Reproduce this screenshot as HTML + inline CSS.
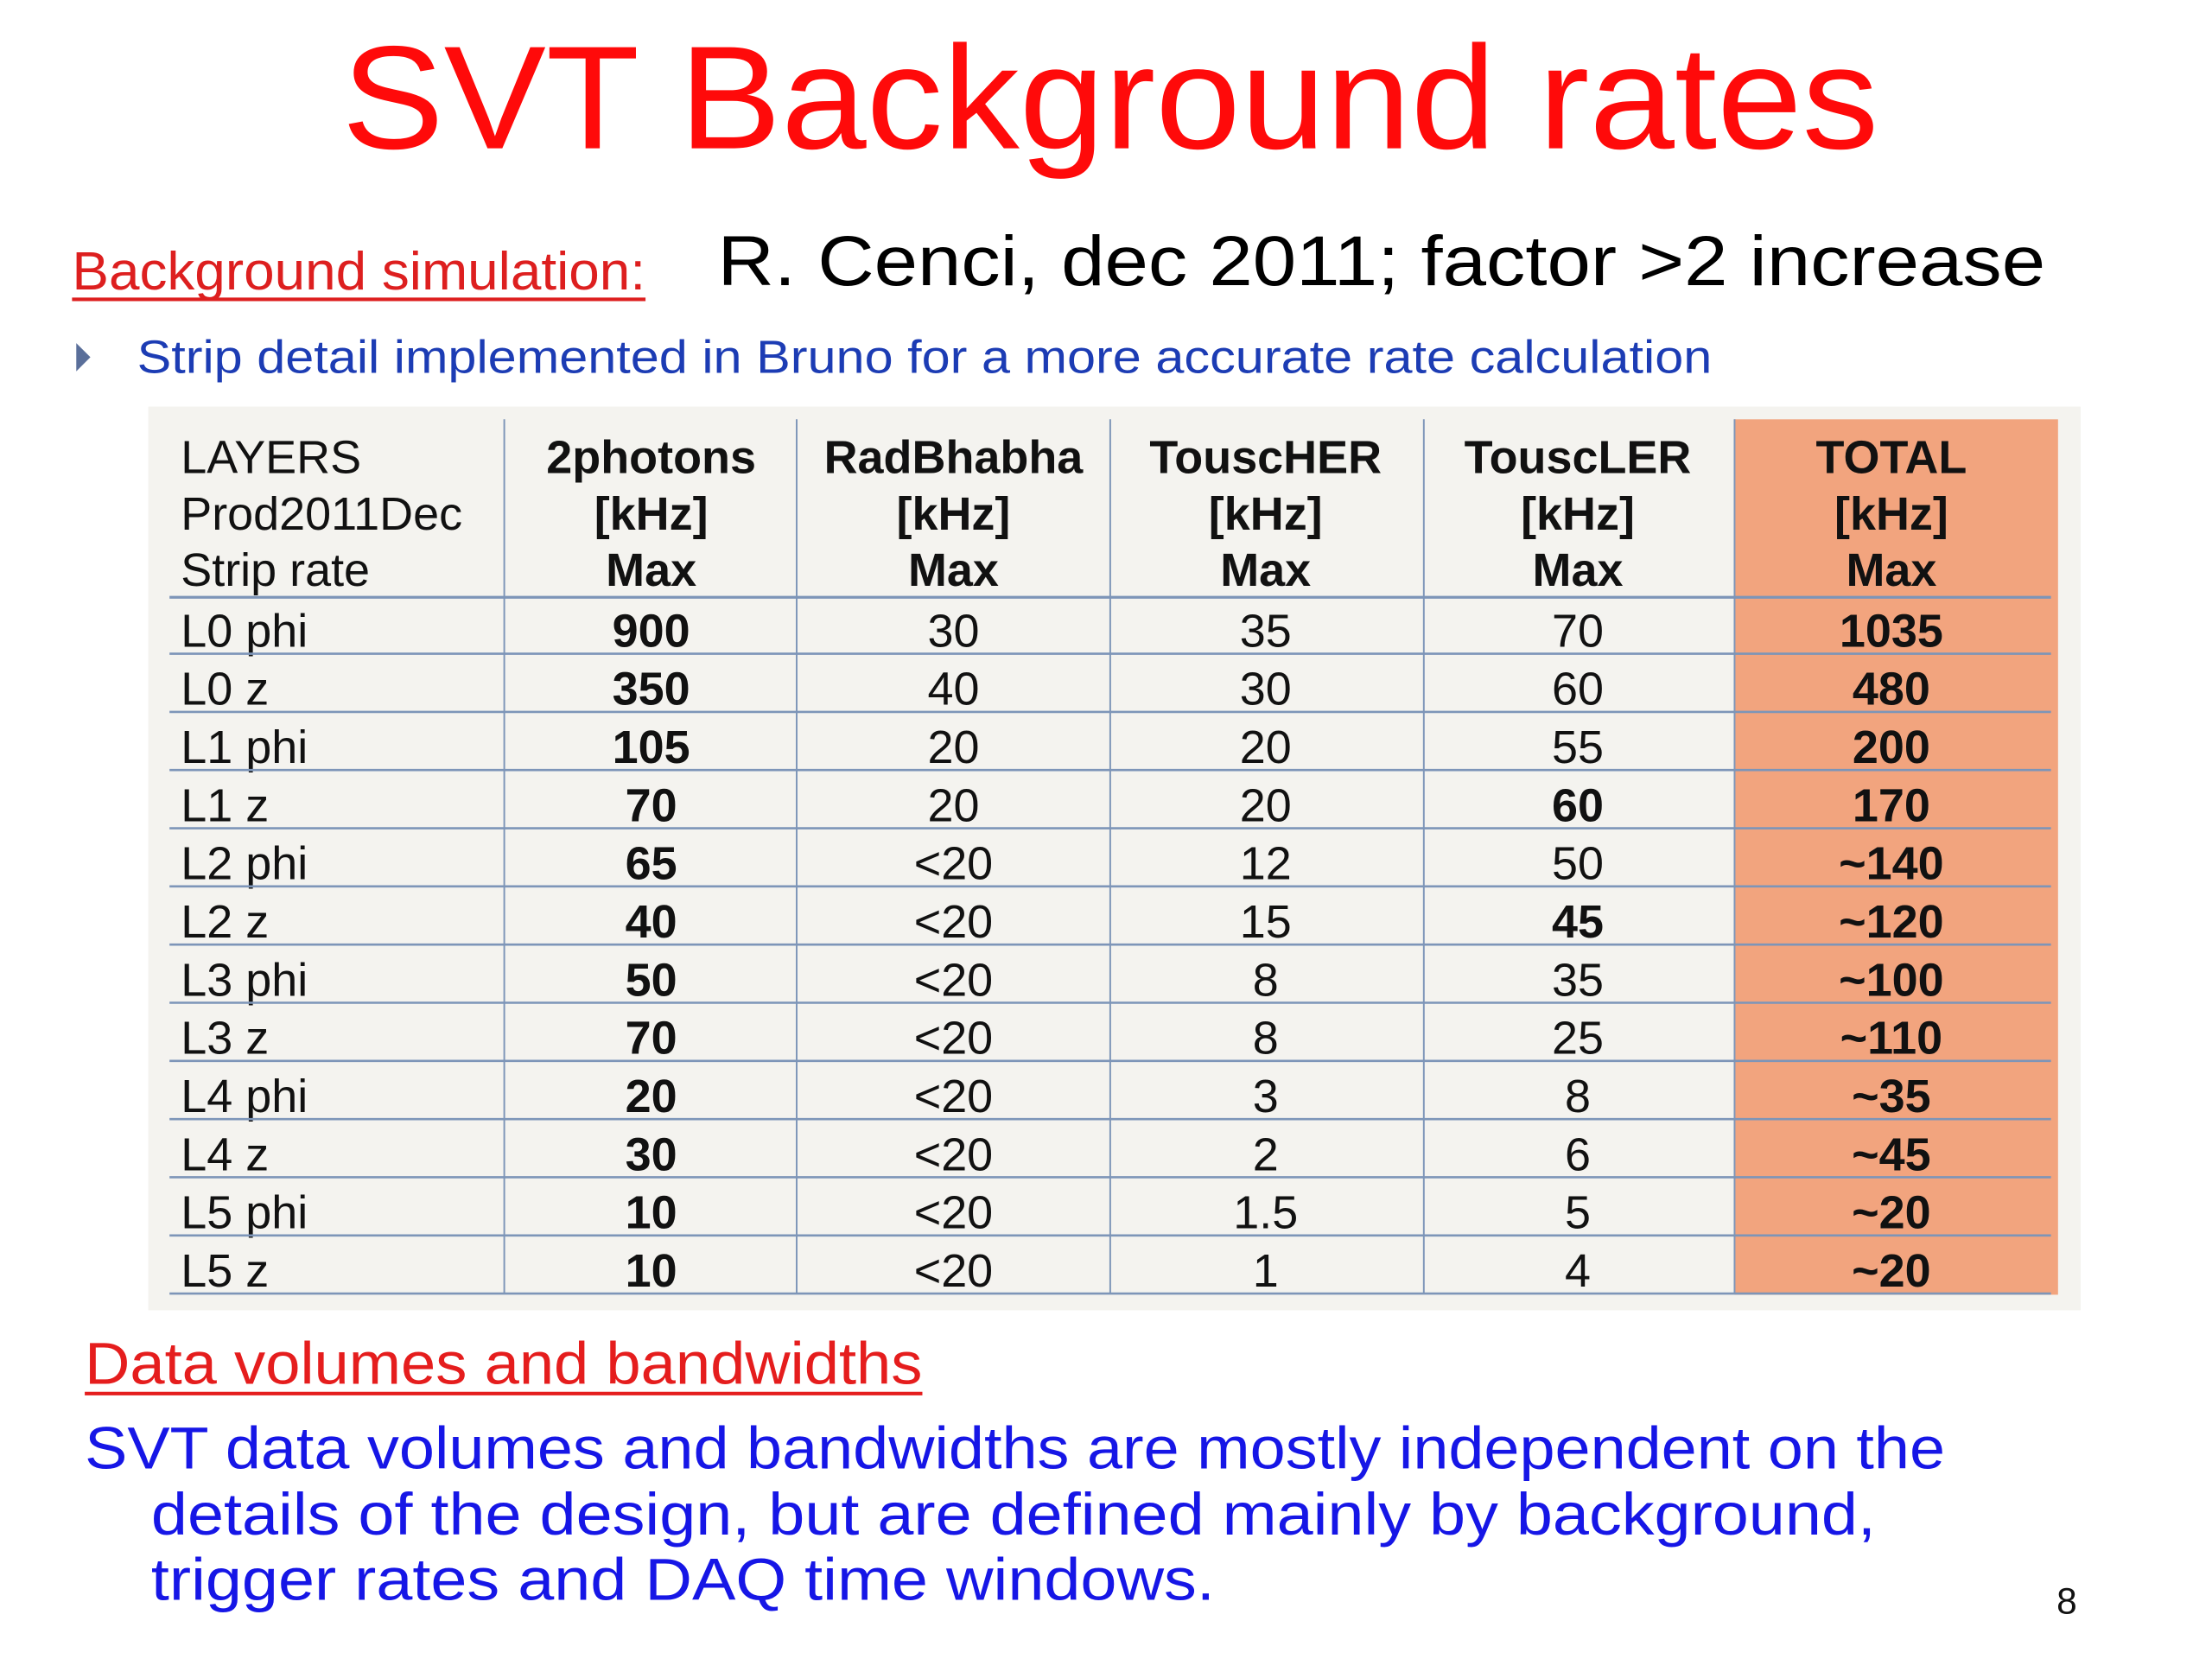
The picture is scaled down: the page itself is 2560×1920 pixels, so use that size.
<!DOCTYPE html>
<html><head><meta charset="utf-8"><style>
html,body{margin:0;padding:0;background:#fff;overflow:hidden;}
svg{display:block;}
.t{font-family:"Liberation Sans Narrow","Liberation Sans",sans-serif;font-size:33px;fill:#111;}
.b{font-weight:bold;}
</style></head><body>
<svg id="slide" width="2560" height="1920" viewBox="0 0 1566 1175" preserveAspectRatio="none" xmlns="http://www.w3.org/2000/svg">
<rect x="0" y="0" width="1566" height="1175" fill="#ffffff"/>
<text x="242" y="105" font-family="Liberation Sans, sans-serif" font-size="104" fill="#ff0a0a" textLength="1088" lengthAdjust="spacingAndGlyphs">SVT Background rates</text>
<text x="51" y="205" font-family="Liberation Sans, sans-serif" font-size="38" fill="#dd1f1f" textLength="406" lengthAdjust="spacingAndGlyphs">Background simulation:</text>
<line x1="51" y1="212" x2="457" y2="212" stroke="#dd1f1f" stroke-width="2.5"/>
<text x="508" y="202" font-family="Liberation Sans, sans-serif" font-size="50" fill="#000" textLength="940" lengthAdjust="spacingAndGlyphs">R. Cenci, dec 2011;   factor &gt;2 increase</text>
<polygon points="54,243 64,253 54,263" fill="#5a6f9a"/>
<text x="97" y="264" font-family="Liberation Sans, sans-serif" font-size="33" fill="#1c3cb4" textLength="1115" lengthAdjust="spacingAndGlyphs">Strip detail implemented in Bruno for a more accurate rate calculation</text>
<g id="table">
<rect x="105" y="288" width="1368" height="640" fill="#f4f3ef"/>
<rect x="1228" y="297" width="229" height="620" fill="#f2a47e"/>
</g>
<text x="60" y="980" font-family="Liberation Sans, sans-serif" font-size="42" fill="#e51d1d" textLength="593" lengthAdjust="spacingAndGlyphs">Data volumes and bandwidths</text>
<line x1="60" y1="987" x2="653" y2="987" stroke="#e51d1d" stroke-width="2.5"/>
<text x="60" y="1040" font-family="Liberation Sans, sans-serif" font-size="42" fill="#1616e6" textLength="1317" lengthAdjust="spacingAndGlyphs">SVT data volumes and bandwidths are mostly independent on the</text>
<text x="107" y="1087" font-family="Liberation Sans, sans-serif" font-size="42" fill="#1616e6" textLength="1221" lengthAdjust="spacingAndGlyphs">details of the design, but are defined mainly by background,</text>
<text x="107" y="1133" font-family="Liberation Sans, sans-serif" font-size="42" fill="#1616e6" textLength="753" lengthAdjust="spacingAndGlyphs">trigger rates and DAQ time windows.</text>
<text x="1456" y="1143" font-family="Liberation Sans, sans-serif" font-size="26" fill="#111">8</text>
</svg>
<script>
const layers = ["L0 phi","L0 z","L1 phi","L1 z","L2 phi","L2 z","L3 phi","L3 z","L4 phi","L4 z","L5 phi","L5 z"];
const photons = ["900","350","105","70","65","40","50","70","20","30","10","10"];
const radBhabha = ["30","40","20","20","<20","<20","<20","<20","<20","<20","<20","<20"];
const touscHER = ["35","30","20","20","12","15","8","8","3","2","1.5","1"];
const touscLER = ["70","60","55","60","50","45","35","25","8","6","5","4"];
const totals = ["1035","480","200","170","~140","~120","~100","~110","~35","~45","~20","~20"];
const boldLER = [false,false,false,true,false,true,false,false,false,false,false,false];
const headers = [["LAYERS","Prod2011Dec","Strip rate"],["2photons","[kHz]","Max"],["RadBhabha","[kHz]","Max"],["TouscHER","[kHz]","Max"],["TouscLER","[kHz]","Max"],["TOTAL","[kHz]","Max"]];

const NS = "http://www.w3.org/2000/svg";
const g = document.getElementById("table");
const colCenters = [0,461,675,896,1117,1339];
const seps = [357,564,786,1008,1228];
const rowY = i => 458 + i*41.2;
function txt(x,y,s,anchor,bold){
  const t = document.createElementNS(NS,"text");
  t.setAttribute("x",x); t.setAttribute("y",y);
  t.setAttribute("class","t"+(bold?" b":""));
  if(anchor) t.setAttribute("text-anchor",anchor);
  t.textContent = s; g.appendChild(t); return t;
}
function line(x1,y1,x2,y2,w){
  const l = document.createElementNS(NS,"line");
  l.setAttribute("x1",x1);l.setAttribute("y1",y1);l.setAttribute("x2",x2);l.setAttribute("y2",y2);
  l.setAttribute("stroke","#7d95b8");l.setAttribute("stroke-width",w);
  g.appendChild(l); return l;
}
seps.forEach(x=>{
  const l = line(x,297,x,916,1.2);
  
  
});
const hl = line(120,423,1452,423,2);


headers.forEach((h,c)=>{
  h.forEach((s,r)=>{
    const y = 335 + r*40;
    const t = c===0 ? txt(128,y,s,null,false) : txt(colCenters[c],y,s,"middle",true);
    
    
  });
});
layers.forEach((name,i)=>{
  const y = rowY(i);
  const cells = [
    txt(128,y,name,null,false),
    txt(colCenters[1],y,photons[i],"middle",true),
    txt(colCenters[2],y,radBhabha[i],"middle",false),
    txt(colCenters[3],y,touscHER[i],"middle",false),
    txt(colCenters[4],y,touscLER[i],"middle",boldLER[i]),
    txt(colCenters[5],y,totals[i],"middle",true)
  ];
  cells.forEach(t=>{
    
    
  });
  const rl = line(120,y+5,1452,y+5,1.6);
  
  
});
</script>
</body></html>
